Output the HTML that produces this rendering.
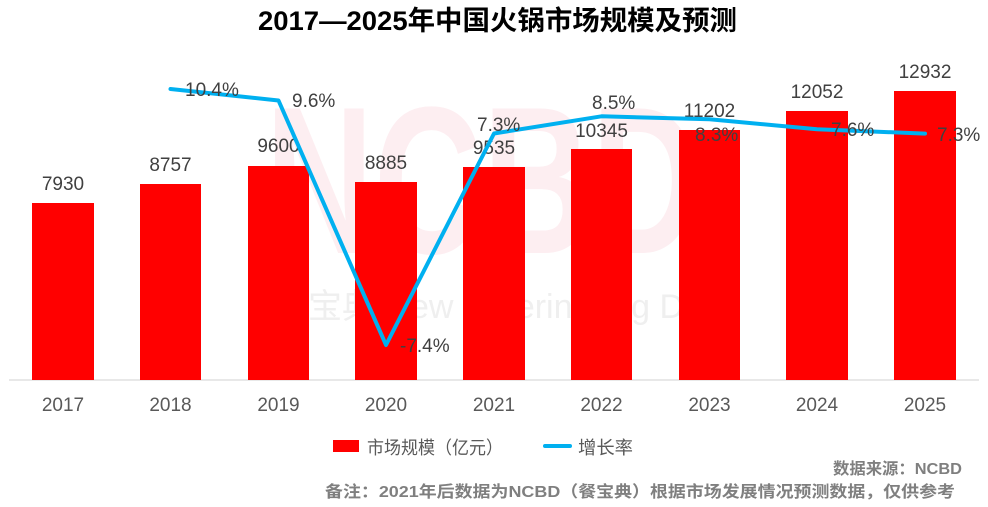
<!DOCTYPE html>
<html>
<head>
<meta charset="utf-8">
<style>
  html,body{margin:0;padding:0;background:#fff;}
  svg{display:block;}
  .t{font-family:"Liberation Sans","Noto Sans CJK SC",sans-serif;}
</style>
</head>
<body>
<svg width="988" height="507" viewBox="0 0 988 507" xmlns="http://www.w3.org/2000/svg">
  <rect width="988" height="507" fill="#ffffff"/>

  <!-- Title -->
  <text class="t" x="258" y="30" font-size="27" font-weight="bold" fill="#000" textLength="479" lengthAdjust="spacingAndGlyphs">2017—2025年中国火锅市场规模及预测</text>

  <!-- Watermarks -->
  <text class="t" x="265" y="253" font-size="210" font-weight="bold" fill="#fdeef1" textLength="435" lengthAdjust="spacingAndGlyphs">NCBD</text>
  <text class="t" x="308" y="318" font-size="34" fill="#efefef">宝典 New Catering Big Data</text>

  <!-- Axis line -->
  <line x1="9" y1="380" x2="979" y2="380" stroke="#d9d9d9" stroke-width="1.2"/>

  <!-- Bars -->
  <g fill="#ff0000">
    <rect x="32" y="203" width="62" height="177"/>
    <rect x="140" y="184" width="61" height="196"/>
    <rect x="248" y="166" width="61" height="214"/>
    <rect x="355" y="182" width="62" height="198"/>
    <rect x="463" y="167" width="62" height="213"/>
    <rect x="571" y="149" width="61" height="231"/>
    <rect x="679" y="130" width="61" height="250"/>
    <rect x="786" y="111" width="62" height="269"/>
    <rect x="894" y="91" width="62" height="289"/>
  </g>

  <!-- Bar value labels -->
  <g class="t" font-size="19" fill="#404040" text-anchor="middle">
    <text x="63" y="190">7930</text>
    <text x="170.5" y="171">8757</text>
    <text x="278.5" y="152">9600</text>
    <text x="386" y="169">8885</text>
    <text x="494" y="154">9535</text>
    <text x="601.5" y="137">10345</text>
    <text x="709.5" y="117">11202</text>
    <text x="817" y="98">12052</text>
    <text x="925" y="78">12932</text>
  </g>

  <!-- Growth line -->
  <polyline points="170.5,89 278.5,100.5 386,345 494,133.5 601.5,116.3 709.5,119.2 817,129.3 925,133.6"
            fill="none" stroke="#00b0f0" stroke-width="4" stroke-linejoin="round" stroke-linecap="round"/>

  <!-- Percent labels -->
  <g class="t" font-size="19" fill="#404040">
    <text x="185" y="96">10.4%</text>
    <text x="292" y="107">9.6%</text>
    <text x="400" y="352">-7.4%</text>
    <text x="477" y="131">7.3%</text>
    <text x="592" y="109">8.5%</text>
    <text x="695" y="141">8.3%</text>
    <text x="831" y="136">7.6%</text>
    <text x="937" y="141">7.3%</text>
  </g>

  <!-- X axis labels -->
  <g class="t" font-size="19" fill="#595959" text-anchor="middle">
    <text x="63" y="411">2017</text>
    <text x="170.5" y="411">2018</text>
    <text x="278.5" y="411">2019</text>
    <text x="386" y="411">2020</text>
    <text x="494" y="411">2021</text>
    <text x="601.5" y="411">2022</text>
    <text x="709.5" y="411">2023</text>
    <text x="817" y="411">2024</text>
    <text x="925" y="411">2025</text>
  </g>

  <!-- Legend -->
  <rect x="333" y="440" width="26" height="12" fill="#ff0000"/>
  <text class="t" x="367" y="454" font-size="18" fill="#595959" textLength="136" lengthAdjust="spacingAndGlyphs">市场规模（亿元）</text>
  <line x1="545" y1="446" x2="570" y2="446" stroke="#00b0f0" stroke-width="4" stroke-linecap="round"/>
  <text class="t" x="578" y="454" font-size="18" fill="#595959" textLength="55" lengthAdjust="spacingAndGlyphs">增长率</text>

  <!-- Footer -->
  <text class="t" x="833" y="474" font-size="16" font-weight="bold" fill="#7f7f7f" textLength="129" lengthAdjust="spacingAndGlyphs">数据来源：NCBD</text>
  <text class="t" x="325" y="497" font-size="16" font-weight="bold" fill="#7f7f7f" textLength="630" lengthAdjust="spacingAndGlyphs">备注：2021年后数据为NCBD（餐宝典）根据市场发展情况预测数据，仅供参考</text>
</svg>
</body>
</html>
